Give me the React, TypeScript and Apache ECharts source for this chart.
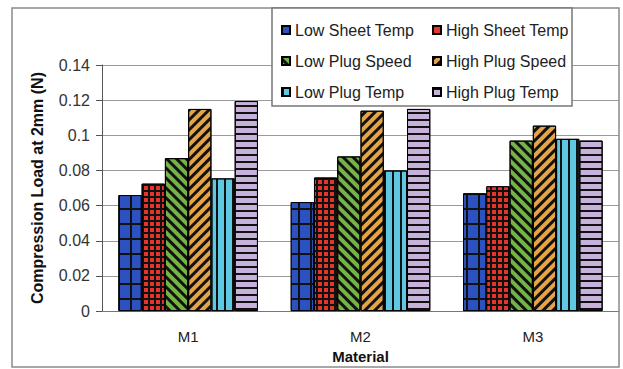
import { useEffect, useRef } from 'react';
import * as echarts from 'echarts';

const categories = ['M1', 'M2', 'M3'];
const seriesNames = [
  'Low Sheet Temp',
  'High Sheet Temp',
  'Low Plug Speed',
  'High Plug Speed',
  'Low Plug Temp',
  'High Plug Temp',
];
const lowSheetTemp = [0.066, 0.062, 0.067];
const highSheetTemp = [0.0725, 0.076, 0.071];
const lowPlugSpeed = [0.087, 0.088, 0.097];
const highPlugSpeed = [0.115, 0.114, 0.1055];
const lowPlugTemp = [0.0755, 0.08, 0.098];
const highPlugTemp = [0.1195, 0.115, 0.097];
const yMin = 0;
const yMax = 0.14;
const yStep = 0.02;

const FONT = 'Liberation Sans, Arial, sans-serif';
const BLUE = '#2c52c2';
const RED = '#e4352b';

export default function App() {
  const ref = useRef<HTMLDivElement>(null);
  useEffect(() => {
    document.body.style.margin = '0';
    if (!ref.current) return;
    const chart = echarts.init(ref.current, null, { renderer: 'svg' });
    const values = [lowSheetTemp, highSheetTemp, lowPlugSpeed, highPlugSpeed, lowPlugTemp, highPlugTemp];
    const styles: any[] = [
      { color: '#111', decal: { symbol: 'rect', symbolSize: 1, color: BLUE, dashArrayX: [10, 2], dashArrayY: [13, 2] } },
      { color: '#111', decal: { symbol: 'rect', symbolSize: 1, color: RED, dashArrayX: [4, 2], dashArrayY: [4, 2] } },
      { color: '#74b446', decal: { symbol: 'rect', symbolSize: 1, color: '#111', dashArrayX: [1, 0], dashArrayY: [3, 4], rotation: Math.PI / 4 } },
      { color: '#e6a445', decal: { symbol: 'rect', symbolSize: 1, color: '#111', dashArrayX: [1, 0], dashArrayY: [3, 4], rotation: -Math.PI / 4 } },
      { color: '#5ec8e2', decal: { symbol: 'rect', symbolSize: 1, color: '#111', dashArrayX: [2, 6], dashArrayY: [1, 0] } },
      { color: '#c7b2db', decal: { symbol: 'rect', symbolSize: 1, color: '#111', dashArrayX: [1, 0], dashArrayY: [2, 5] } },
    ];
    const series = seriesNames.map((name, i) => ({
      name,
      type: 'bar',
      data: values[i],
      barGap: '0%',
      barCategoryGap: '19%',
      itemStyle: { ...styles[i], borderColor: '#000', borderWidth: 1 },
    }));
    const legendCommon = {
      orient: 'vertical',
      top: 17,
      itemGap: 15,
      itemWidth: 8,
      itemHeight: 8,
      icon: 'rect',
      z: 20,
      textStyle: { fontSize: 16, color: '#222', fontFamily: FONT },
    };
    chart.setOption({
      animation: false,
      textStyle: { fontFamily: FONT },
      grid: { left: 102, right: 4, top: 65, bottom: 52 },
      legend: [
        {
          ...legendCommon,
          left: 276,
          data: [
            { name: seriesNames[0], itemStyle: { color: BLUE, decal: 'none' } },
            seriesNames[2],
            seriesNames[4],
          ],
        },
        {
          ...legendCommon,
          left: 427,
          data: [
            { name: seriesNames[1], itemStyle: { color: RED, decal: 'none' } },
            seriesNames[3],
            seriesNames[5],
          ],
        },
      ],
      xAxis: {
        type: 'category',
        data: categories,
        name: 'Material',
        nameLocation: 'middle',
        nameGap: 33,
        nameTextStyle: { fontWeight: 'bold', fontSize: 15, color: '#111', fontFamily: FONT },
        axisLine: { lineStyle: { color: '#777', width: 1 } },
        axisTick: { length: 5, lineStyle: { color: '#777' } },
        axisLabel: { fontSize: 15, color: '#222', margin: 18, fontFamily: FONT },
      },
      yAxis: {
        type: 'value',
        min: yMin,
        max: yMax,
        interval: yStep,
        name: 'Compression Load at 2mm (N)',
        nameLocation: 'middle',
        nameGap: 57,
        nameTextStyle: { fontWeight: 'bold', fontSize: 16, color: '#111', fontFamily: FONT },
        axisLine: { show: true, lineStyle: { color: '#555', width: 1 } },
        axisTick: { show: true, length: 6, lineStyle: { color: '#555' } },
        axisLabel: { fontSize: 16, color: '#333', margin: 12, fontFamily: FONT },
        splitLine: { lineStyle: { color: '#9a9a9a', width: 1 } },
      },
      graphic: [
        {
          type: 'rect',
          silent: true,
          z: 1,
          shape: { x: 12, y: 8, width: 607, height: 359 },
          style: { fill: 'none', stroke: '#8a8a8a', lineWidth: 1.5 },
        },
        {
          type: 'rect',
          silent: true,
          z: 15,
          shape: { x: 272, y: 8, width: 300, height: 98 },
          style: { fill: '#fff', stroke: '#777', lineWidth: 1.5 },
        },
      ],
      series,
    } as any);
    return () => chart.dispose();
  }, []);
  return <div ref={ref} style={{ width: 623, height: 369 }} />;
}
